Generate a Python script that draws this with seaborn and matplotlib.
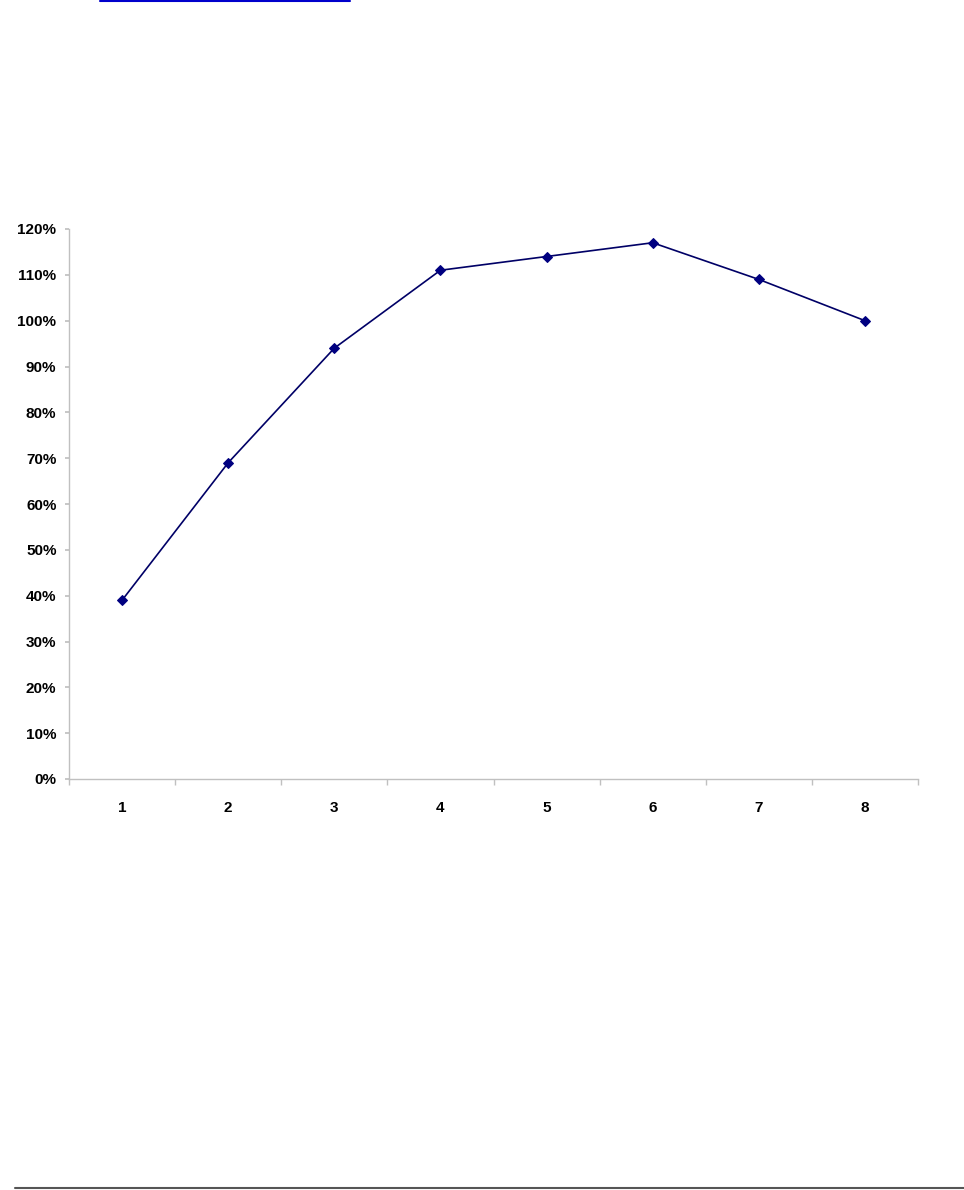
import matplotlib
matplotlib.use("Agg")
import matplotlib.pyplot as plt
import seaborn as sns
import pandas as pd
from matplotlib.lines import Line2D
from matplotlib.ticker import FixedLocator

categories = [1, 2, 3, 4, 5, 6, 7, 8]
values = [39, 69, 94, 111, 114, 117, 109, 100]
y_ticks = [0, 10, 20, 30, 40, 50, 60, 70, 80, 90, 100, 110, 120]
y_labels = [f"{v}%" for v in y_ticks]

sns.set_theme(style="white")
plt.rcParams['font.family'] = ['Liberation Sans Narrow', 'Liberation Sans', 'DejaVu Sans']

df = pd.DataFrame({"cat": categories, "val": values})

fig = plt.figure(figsize=(9.64, 11.9), dpi=100)
ax = fig.add_axes([69/964, 411/1190, (918-69)/964, (779-229)/1190])

sns.lineplot(data=df, x="cat", y="val", ax=ax, color="#000066", linewidth=1.2,
             marker="D", markersize=5, markeredgecolor="#000080",
             markerfacecolor="#000080")

ax.set_xlim(0.5, 8.5)
ax.set_ylim(0, 120)
ax.set_yticks(y_ticks)
ax.set_yticklabels(y_labels, fontsize=11, fontweight="bold", color="black")
ax.set_xticks(categories)
ax.set_xticklabels([str(c) for c in categories], fontsize=11, fontweight="bold", color="black")
ax.xaxis.set_minor_locator(FixedLocator([c + 0.5 for c in [0] + categories]))
ax.tick_params(axis="x", which="major", length=0, pad=16)
ax.tick_params(axis="x", which="minor", length=4, color="#c0c0c0", direction="out", bottom=True)
ax.tick_params(axis="y", length=3, color="#c0c0c0", direction="out", left=True, pad=6)
ax.set_xlabel("")
ax.set_ylabel("")
for s in ["top", "right"]:
    ax.spines[s].set_visible(False)
for s in ["left", "bottom"]:
    ax.spines[s].set_color("#c0c0c0")
    ax.spines[s].set_linewidth(1)

# page decorations
fig.add_artist(Line2D([100/964, 350/964], [1 - 1/1190, 1 - 1/1190], color="#0000cc", linewidth=1.5, transform=fig.transFigure))
fig.add_artist(Line2D([15/964, 1.0], [1 - 1188/1190, 1 - 1188/1190], color="#555555", linewidth=1.5, transform=fig.transFigure))

fig.savefig("out.png", dpi=100, facecolor="white")
